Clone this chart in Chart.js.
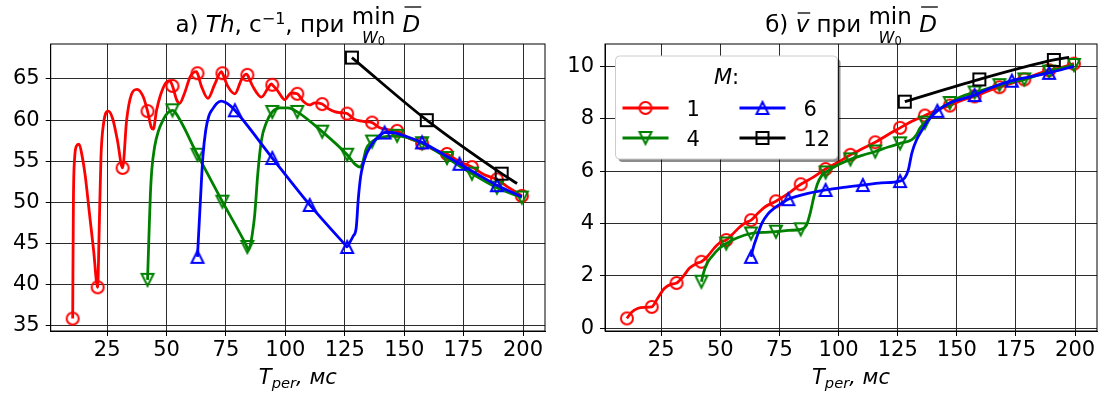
<!DOCTYPE html>
<html lang="ru">
<head>
<meta charset="utf-8">
<title>Th и v при min D</title>
<script src="https://cdn.jsdelivr.net/npm/chart.js@4.4.1/dist/chart.umd.min.js"></script>
<style>
  html, body { margin: 0; padding: 0; background: #fff; }
  body { width: 1104px; height: 396px; position: relative; overflow: hidden; }
  canvas { position: absolute; top: 0; }
  #thChart { left: 0; }
  #vChart { left: 552px; }
</style>
</head>
<body>
<canvas id="thChart" width="552" height="396"></canvas>
<canvas id="vChart" width="552" height="396"></canvas>
<script>
// series: M = 1, 4, 6, 12
const mLabels = ["1", "4", "6", "12"];
const mColors = ["#ff0000", "#008000", "#0000ff", "#000000"];
const mShapes = ["circle", "triDown", "triUp", "square"];

const xTicks = [25, 50, 75, 100, 125, 150, 175, 200];
const thTicks = [35, 40, 45, 50, 55, 60, 65];
const vTicks = [0, 2, 4, 6, 8, 10];

// marker positions, T_per (ms)
const tMark1 = [10.5, 21, 31.5, 42, 52.5, 63, 73.5, 84, 94.5, 105, 115.5, 126, 136.5, 147, 157.5, 168, 178.5, 189, 199.5];
const tMark4 = [42, 52.5, 63, 73.5, 84, 94.5, 105, 115.5, 126, 136.5, 147, 157.5, 168, 178.5, 189, 199.5];
const tMark6 = [63, 78.75, 94.5, 110.25, 126, 141.75, 157.5, 173.25, 189];
const tMark12 = [128, 159.5, 191];

// а) Th, c^-1 at the markers
const thMark1 = [35.9, 39.7, 54.2, 61.1, 64.15, 65.7, 65.7, 65.5, 64.3, 63.2, 61.95, 60.8, 59.7, 58.7, 57.2, 55.9, 54.3, 52.8, 50.8];
const thMark4 = [40.6, 61.2, 55.8, 50.1, 44.6, 61.0, 61.0, 58.6, 55.8, 57.4, 58.1, 57.2, 55.4, 53.5, 51.8, 50.6];
const thMark6 = [43.4, 61.2, 55.4, 49.7, 44.6, 58.5, 57.3, 54.7, 52.1];
const thMark12 = [67.6, 60.0, 53.5];

// а) Th curves
const thLineT1 = [10.5, 10.8, 11.3, 12.2, 13.2, 14.5, 15.8, 17.5, 19.3, 21, 21.6, 22.4, 23.5, 25.5, 27.3, 29.3, 31.5,
  33.2, 35.2, 37.6, 40.1, 42, 43.6, 44.4, 45.8, 47.3, 49.4, 51.3, 52.5, 54.2, 55.5, 57.6, 60, 62.5, 63,
  64.7, 67.4, 70.2, 73.1, 73.5, 75.8, 78.7, 81.5, 83.5, 84, 86.3, 89.9, 92.7, 94.1, 94.5, 96.9, 99.7, 102.5, 105,
  107.5, 110, 112.5, 115.5, 118, 121, 123.5, 126, 129, 131.5, 134, 136.5, 139.5, 142, 144.5, 147, 152, 157.5,
  162.5, 168, 173, 178.5, 183.5, 189, 194, 199.5];
const thLine1 = [35.9, 50, 55.3, 56.9, 57.1, 55.6, 53.2, 48.8, 44.2, 39.7, 46, 55.5, 59.6, 61.1, 60.2, 57.6, 54.2,
  60, 63.1, 63.75, 62.9, 61.1, 59.1, 58.9, 61.2, 62.9, 64.4, 64.8, 64.15, 62.5, 62.05, 63.3, 65.3, 65.9, 65.7,
  64.1, 62.65, 64.3, 65.9, 65.7, 64.1, 63.2, 64.9, 65.6, 65.5, 64.1, 62.8, 63.9, 64.4, 64.3, 63.5, 62.5, 63.3, 63.2,
  62.3, 61.85, 62.1, 61.95, 61.4, 61.0, 60.9, 60.8, 60.1, 59.9, 59.8, 59.7, 59.1, 58.9, 58.8, 58.7, 57.8, 57.2,
  56.4, 55.9, 55.0, 54.3, 53.4, 52.8, 51.8, 50.8];
const thLineT4 = [42, 42.6, 43.2, 43.8, 45, 46.5, 48.5, 50.5, 52.5, 53.5, 63, 73.5, 83.3, 84.5, 85.3, 86, 87.1, 88.4, 89.9, 92,
  94.5, 97.6, 101, 105, 115.5, 126, 129.5, 131.5, 132.5, 134, 136.5, 140, 147, 157.5, 168, 178.5, 189, 199.5];
const thLine4 = [40.6, 46, 51, 54, 56.8, 58.6, 60.0, 60.9, 61.2, 61.0, 55.8, 50.1, 44.95, 44.25, 44.9, 46, 48.5, 53.5, 57.5, 59.7,
  61.0, 61.5, 61.5, 61.0, 58.6, 55.8, 54.6, 54.3, 54.8, 56.5, 57.4, 57.9, 58.1, 57.2, 55.4, 53.5, 51.8, 50.6];
const thLineT6 = [63, 64.2, 65.3, 66.5, 67.8, 69.5, 71, 73, 75, 77, 78.75, 94.5, 110.25, 125.2, 126, 127, 128.5, 129.8,
  130.7, 131.7, 132.6, 134, 135.4, 137.5, 139.6, 141.75, 145, 149, 157.5, 165, 173.25, 181, 189, 199.5];
const thLine6 = [43.4, 50, 55.6, 58.8, 60.5, 61.4, 62.0, 62.3, 62.1, 61.7, 61.2, 55.4, 49.7, 44.85, 44.6, 45.1, 45.9, 46.9,
  50.5, 53.2, 54.5, 55.8, 56.6, 57.5, 58.1, 58.5, 58.5, 58.2, 57.3, 56.1, 54.7, 53.4, 52.1, 50.7];
const thLineT12 = [128, 159.5, 191, 197.5];
const thLine12 = [67.6, 60.0, 53.5, 52.3];

// б) mean v at the markers
const vMark1 = [0.38, 0.82, 1.73, 2.54, 3.37, 4.13, 4.85, 5.5, 6.08, 6.62, 7.1, 7.65, 8.12, 8.5, 8.85, 9.2, 9.5, 9.85, 10.1];
const vMark4 = [1.78, 3.24, 3.62, 3.69, 3.78, 5.95, 6.45, 6.75, 7.06, 7.85, 8.6, 9.0, 9.28, 9.5, 9.8, 10.05];
const vMark6 = [2.73, 4.93, 5.28, 5.47, 5.62, 8.3, 8.9, 9.45, 9.75];
const vMark12 = [8.65, 9.5, 10.24];

// б) v curves
const vLineT1 = [10.5, 12.5, 15, 18, 21, 23.5, 26.3, 29, 31.5, 34, 37, 40, 42, 44.6, 47.5, 50.2, 52.5, 55, 58, 60.6, 63,
  66, 69, 73.5, 78, 84, 89, 94.5, 100, 105, 110, 115.5, 121, 126, 131, 136.5, 142, 147, 152, 157.5, 163, 168, 173,
  178.5, 184, 189, 194, 199.5];
const vLine1 = [0.38, 0.62, 0.76, 0.8, 0.82, 1.15, 1.52, 1.68, 1.73, 1.95, 2.3, 2.48, 2.54, 2.75, 3.07, 3.3, 3.37, 3.58,
  3.85, 4.03, 4.13, 4.4, 4.64, 4.85, 5.1, 5.5, 5.75, 6.08, 6.35, 6.62, 6.85, 7.1, 7.4, 7.65, 7.9, 8.12, 8.35, 8.5, 8.7,
  8.85, 9.05, 9.2, 9.35, 9.5, 9.7, 9.85, 9.95, 10.1];
const vLineT4 = [42, 43, 44.5, 46.5, 49.5, 52.5, 57, 63, 68, 73.5, 79, 84, 86.5, 88, 89.5, 91, 93, 94.5, 100, 105, 110,
  115.5, 121, 126, 131, 133, 134.5, 136.5, 140, 147, 152, 157.5, 168, 178.5, 189, 199.5];
const vLine4 = [1.78, 2.15, 2.5, 2.75, 3.05, 3.24, 3.45, 3.62, 3.66, 3.69, 3.74, 3.78, 3.95, 4.4, 5.0, 5.5, 5.85, 5.95,
  6.25, 6.45, 6.6, 6.75, 6.92, 7.06, 7.2, 7.4, 7.65, 7.85, 8.2, 8.6, 8.85, 9.0, 9.28, 9.5, 9.8, 10.05];
const vLineT6 = [63, 64, 65.5, 67.5, 70, 73, 76, 78.75, 85, 94.5, 102, 110.25, 118, 126, 128, 129.5, 131, 133, 135.5, 138,
  141.75, 147, 157.5, 165, 173.25, 181, 189, 199.5];
const vLine6 = [2.73, 3.1, 3.5, 4.0, 4.35, 4.6, 4.78, 4.93, 5.1, 5.28, 5.38, 5.47, 5.55, 5.62, 5.75, 6.05, 6.7, 7.2, 7.6,
  7.95, 8.3, 8.6, 8.9, 9.2, 9.45, 9.6, 9.75, 10.0];
const vLineT12 = [128, 159.5, 191, 197.5];
const vLine12 = [8.65, 9.5, 10.24, 10.34];

const FAMILY = "'DejaVu Sans', sans-serif";
const GRID = "#2b2b2b";
const font = (size, italic) => (italic ? "italic " : "") + size + "px " + FAMILY;
const pts = (xs, ys) => xs.map((x, i) => ({ x: x, y: ys[i] }));

// hollow markers like matplotlib ones
function markerImage(shape, color) {
  const c = document.createElement("canvas");
  c.width = 20; c.height = 20;
  const g = c.getContext("2d");
  const h = 6;
  g.strokeStyle = color;
  g.lineWidth = 2;
  g.lineJoin = "miter";
  g.beginPath();
  if (shape === "circle") g.arc(10, 10, h, 0, Math.PI * 2);
  else if (shape === "square") g.rect(10 - h, 10 - h, 2 * h, 2 * h);
  else if (shape === "triUp") { g.moveTo(10, 10 - h); g.lineTo(10 + h, 10 + h); g.lineTo(10 - h, 10 + h); g.closePath(); }
  else { g.moveTo(10, 10 + h); g.lineTo(10 + h, 10 - h); g.lineTo(10 - h, 10 - h); g.closePath(); }
  g.stroke();
  return c;
}
const markers = mShapes.map((s, i) => markerImage(s, mColors[i]));

function buildDatasets(lineT, lineY, markT, markY) {
  const out = [];
  for (let k = 0; k < 4; k++) {
    out.push({
      data: pts(lineT[k], lineY[k]), showLine: true, borderColor: mColors[k], borderWidth: 2.8,
      pointRadius: 0, cubicInterpolationMode: "monotone", fill: false, order: 10 - 2 * k
    });
    out.push({
      data: pts(markT[k], markY[k]), showLine: false, pointStyle: markers[k], pointRadius: 6,
      order: 9 - 2 * k
    });
  }
  return out;
}

// title text: sub/superscripts, over-bars and a \min_{W_0} block
const TS = 23;
function measure(ctx, p) {
  if (p.lim) {
    ctx.font = font(TS, false); const wt = ctx.measureText(p.lim).width;
    ctx.font = font(16, true); p.wW = ctx.measureText("W").width;
    ctx.font = font(11.5, false); p.w0 = ctx.measureText("0").width;
    p.wTop = wt;
    return Math.max(wt, p.wW + p.w0);
  }
  ctx.font = font(p.size || TS, p.italic);
  return ctx.measureText(p.t).width;
}
function drawRich(ctx, parts, cx, base) {
  ctx.save();
  ctx.fillStyle = "#000";
  ctx.strokeStyle = "#000";
  ctx.textBaseline = "alphabetic";
  ctx.textAlign = "left";
  const ws = parts.map(p => measure(ctx, p));
  let x = cx - ws.reduce((a, b) => a + b, 0) / 2;
  parts.forEach((p, i) => {
    const w = ws[i];
    if (p.lim) {
      ctx.font = font(TS, false);
      ctx.fillText(p.lim, x + (w - p.wTop) / 2, base - 8);
      const sx = x + (w - p.wW - p.w0) / 2;
      ctx.font = font(16, true);
      ctx.fillText("W", sx, base + 11);
      ctx.font = font(11.5, false);
      ctx.fillText("0", sx + p.wW, base + 13);
    } else {
      ctx.font = font(p.size || TS, p.italic);
      ctx.fillText(p.t, x, base + (p.dy || 0));
      if (p.bar != null) {
        ctx.lineWidth = 1.3;
        ctx.beginPath();
        ctx.moveTo(x + 2, base - p.bar);
        ctx.lineTo(x + w + 1, base - p.bar);
        ctx.stroke();
      }
    }
    x += w;
  });
  ctx.restore();
}

const xLabel = [
  { t: "T", italic: true, size: 21 }, { t: "per", italic: true, size: 14.7, dy: 4.5 }, { t: ", мс", italic: true, size: 21 }
];

const textPlugin = {
  id: "texts",
  afterDraw(chart, args, opts) {
    const ctx = chart.ctx;
    const a = chart.chartArea;
    const cx = (a.left + a.right) / 2;
    // full frame
    ctx.save();
    ctx.strokeStyle = "#000";
    ctx.lineWidth = 1;
    ctx.strokeRect(a.left, a.top, a.right - a.left, a.bottom - a.top);
    ctx.restore();
    drawRich(ctx, opts.title, cx, 32);
    drawRich(ctx, xLabel, cx, 383.5);
    if (opts.legend) drawLegend(ctx, opts.legend);
  }
};

function drawLegend(ctx, L) {
  ctx.save();
  const r = 4;
  const box = (x, y, w, h) => {
    ctx.beginPath();
    ctx.roundRect(x, y, w, h, r);
  };
  ctx.fillStyle = "rgba(0,0,0,0.45)";
  box(L.x + 3, L.y + 3, L.w, L.h); ctx.fill();
  ctx.fillStyle = "#fff";
  ctx.strokeStyle = "#cccccc";
  ctx.lineWidth = 1;
  box(L.x, L.y, L.w, L.h); ctx.fill(); ctx.stroke();
  // title
  ctx.fillStyle = "#000";
  ctx.textBaseline = "alphabetic";
  ctx.font = font(21, true);
  const wm = ctx.measureText("M").width;
  ctx.font = font(21, false);
  const wc = ctx.measureText(":").width;
  const tx = L.x + L.w / 2 - (wm + wc) / 2;
  ctx.font = font(21, true); ctx.fillText("M", tx, L.y + 28);
  ctx.font = font(21, false); ctx.fillText(":", tx + wm, L.y + 28);
  // entries, two columns
  const cols = [L.x + 7, L.x + 124];
  const rows = [L.y + 52, L.y + 82];
  const order = [[0, 0, 0], [1, 0, 1], [2, 1, 0], [3, 1, 1]];
  order.forEach(([k, c, rw]) => {
    const x0 = cols[c], y0 = rows[rw];
    ctx.strokeStyle = mColors[k];
    ctx.lineWidth = 2.8;
    ctx.beginPath(); ctx.moveTo(x0, y0); ctx.lineTo(x0 + 46, y0); ctx.stroke();
    ctx.drawImage(markers[k], x0 + 23 - 10, y0 - 10);
    ctx.fillStyle = "#000";
    ctx.font = font(21, false);
    ctx.fillText(mLabels[k], x0 + 64, y0 + 7.5);
  });
  ctx.restore();
}

function axisOpts(min, max, ticks, isX) {
  return {
    type: "linear",
    min: min, max: max,
    afterBuildTicks: s => { s.ticks = ticks.map(v => ({ value: v })); },
    afterFit: s => { if (isX) s.height = 65; else s.width = s.chart.options.yWidth; },
    grid: { color: GRID, lineWidth: 1, tickLength: 5, tickColor: "#000", drawTicks: true },
    border: { display: true, color: "#000", width: 1 },
    ticks: {
      font: { family: FAMILY, size: 21 }, color: "#000", padding: isX ? 2 : 6,
      maxRotation: 0, autoSkip: false
    }
  };
}

function makeChart(id, datasets, yMin, yMax, yTicks, yWidth, padRight, texts) {
  return new Chart(document.getElementById(id), {
    type: "scatter",
    data: { datasets: datasets },
    plugins: [textPlugin],
    options: {
      responsive: false,
      animation: false,
      devicePixelRatio: 1,
      yWidth: yWidth,
      layout: { padding: { left: 0, right: padRight, top: 44, bottom: 0 } },
      plugins: { legend: { display: false }, tooltip: { enabled: false }, texts: texts },
      scales: {
        x: axisOpts(1.25, 209.25, xTicks, true),
        y: axisOpts(yMin, yMax, yTicks, false)
      }
    }
  });
}

const thTitle = [
  { t: "а) " }, { t: "Th", italic: true }, { t: ", с" }, { t: "−1", size: 16, dy: -8.5 }, { t: ", при " },
  { lim: "min" }, { t: " " }, { t: "D", italic: true, bar: 25 }
];
const vTitle = [
  { t: "б) " }, { t: "v", italic: true, bar: 19 }, { t: " при " }, { lim: "min" }, { t: " " },
  { t: "D", italic: true, bar: 25 }
];

makeChart("thChart",
  buildDatasets([thLineT1, thLineT4, thLineT6, thLineT12], [thLine1, thLine4, thLine6, thLine12],
    [tMark1, tMark4, tMark6, tMark12], [thMark1, thMark4, thMark6, thMark12]),
  34.39, 69.25, thTicks, 50.7, 4.7, { title: thTitle });

makeChart("vChart",
  buildDatasets([vLineT1, vLineT4, vLineT6, vLineT12], [vLine1, vLine4, vLine6, vLine12],
    [tMark1, tMark4, tMark6, tMark12], [vMark1, vMark4, vMark6, vMark12]),
  -0.1, 10.85, vTicks, 53, 3,
  { title: vTitle, legend: { x: 615.5 - 552, y: 56, w: 222, h: 103 } });
</script>
</body>
</html>
